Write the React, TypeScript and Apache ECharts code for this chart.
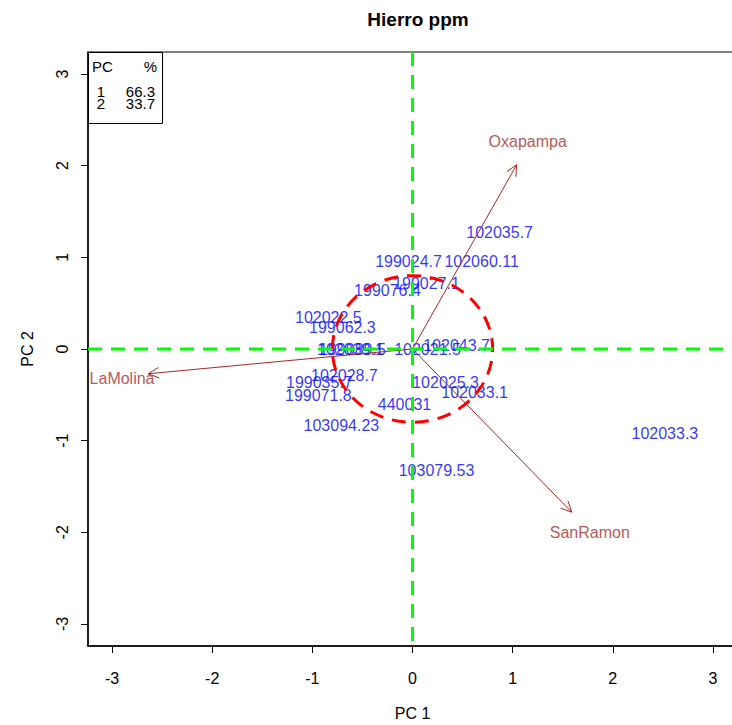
import React, { useEffect, useRef } from "react";
import * as echarts from "echarts";

// ---- data ----
const pointNames = [
  "102035.7", "199024.7", "102060.11", "199027.1", "199076.4", "102022.5",
  "199062.3", "102039.1", "199089.5", "102021.5", "102043.7", "102028.7",
  "199035.7", "199071.8", "102025.3", "102033.1", "440031", "103094.23",
  "103079.53", "102033.3",
];
const pc1 = [
  0.87, -0.04, 0.69, 0.14, -0.25, -0.84,
  -0.70, -0.62, -0.60, 0.15, 0.44, -0.68,
  -0.93, -0.94, 0.33, 0.62, -0.08, -0.71,
  0.24, 2.52,
];
const pc2 = [
  1.27, 0.95, 0.95, 0.71, 0.64, 0.34,
  0.23, 0.0, -0.01, 0.0, 0.04, -0.29,
  -0.36, -0.51, -0.36, -0.47, -0.61, -0.83,
  -1.32, -0.92,
];
const varNames = ["Oxapampa", "SanRamon", "LaMolina"];
const varPC1 = [1.04, 1.59, -2.64];
const varPC2 = [2.01, -1.78, -0.27];
const varLabelPC1 = [1.15, 1.77, -2.90];
const varLabelPC2 = [2.26, -2.0, -0.32];
const circleRadius = [0.8];
const tickValues = [-3, -2, -1, 0, 1, 2, 3];
const axisMin = -3.24;
const axisMax = 3.24;
const legendRows = [
  ["1", "66.3"],
  ["2", "33.7"],
];

const FONT = "'Liberation Sans', Arial, Helvetica, sans-serif";
const BROWN = "#A52A2A";

export default function App() {
  const ref = useRef<HTMLDivElement>(null);

  useEffect(() => {
    if (!ref.current) return;
    const chart = echarts.init(ref.current, undefined, { renderer: "svg" });

    const pointData = pointNames.map((n, i) => ({ name: n, value: [pc1[i], pc2[i]] }));
    const varLabelData = varNames.map((n, i) => ({ name: n, value: [varLabelPC1[i], varLabelPC2[i]] }));
    const arrowData = varNames.map((n, i) => ({ name: n, value: [varPC1[i], varPC2[i]] }));

    const legendGraphics: any[] = [
      {
        type: "rect",
        left: 88,
        top: 52,
        shape: { width: 74, height: 71 },
        style: { fill: "#fff", stroke: "#000", lineWidth: 1 },
        z: 100,
      },
      {
        type: "text",
        x: 92,
        y: 66,
        style: { text: "PC", font: `15px ${FONT}`, fill: "#000", textVerticalAlign: "middle" },
        z: 101,
      },
      {
        type: "text",
        x: 157,
        y: 66,
        style: { text: "%", font: `15px ${FONT}`, fill: "#000", textAlign: "right", textVerticalAlign: "middle" },
        z: 101,
      },
    ];
    legendRows.forEach((r, i) => {
      const y = 91 + i * 12;
      legendGraphics.push({
        type: "text",
        x: 101,
        y,
        style: { text: r[0], font: `15px ${FONT}`, fill: "#000", textAlign: "center", textVerticalAlign: "middle" },
        z: 101,
      });
      legendGraphics.push({
        type: "text",
        x: 155,
        y,
        style: { text: r[1], font: `15px ${FONT}`, fill: "#000", textAlign: "right", textVerticalAlign: "middle" },
        z: 101,
      });
    });

    chart.setOption({
      animation: false,
      backgroundColor: "#fff",
      title: {
        text: "Hierro ppm",
        left: 413,
        top: 5,
        textAlign: "center",
        textStyle: { fontFamily: FONT, fontSize: 19, fontWeight: "bold", color: "#000" },
      },
      grid: {
        left: 88,
        top: 52,
        width: 649,
        height: 594,
        show: true,
        borderColor: "#000",
        borderWidth: 1,
        containLabel: false,
        outerBoundsMode: "none",
      },
      xAxis: {
        type: "value",
        min: axisMin,
        max: axisMax,
        name: "PC 1",
        nameLocation: "middle",
        nameGap: 59,
        nameTextStyle: { fontFamily: FONT, fontSize: 16, color: "#000", verticalAlign: "top" },
        axisLine: { show: true, onZero: false, lineStyle: { color: "#000", width: 1.5 } },
        axisTick: { show: true, inside: false, length: 7, lineStyle: { color: "#000" }, customValues: tickValues },
        axisLabel: {
          show: true,
          margin: 24,
          fontFamily: FONT,
          fontSize: 16,
          color: "#000",
          customValues: tickValues,
          formatter: (v: number) => String(v),
        },
        splitLine: { show: false },
      },
      yAxis: {
        type: "value",
        min: axisMin,
        max: axisMax,
        name: "PC 2",
        nameLocation: "middle",
        nameGap: 53,
        nameRotate: 90,
        nameTextStyle: { fontFamily: FONT, fontSize: 16, color: "#000" },
        axisLine: { show: true, onZero: false, lineStyle: { color: "#000", width: 1.5 } },
        axisTick: { show: true, inside: false, length: 7, lineStyle: { color: "#000" }, customValues: tickValues },
        axisLabel: {
          show: true,
          margin: 18,
          rotate: 90,
          fontFamily: FONT,
          fontSize: 16,
          color: "#000",
          customValues: tickValues,
          formatter: (v: number) => String(v),
        },
        splitLine: { show: false },
      },
      graphic: legendGraphics,
      series: [
        {
          type: "scatter",
          name: "obs",
          data: pointData,
          symbolSize: 0,
          z: 3,
          label: {
            show: true,
            position: "inside",
            formatter: "{b}",
            color: "#0000FF",
            fontFamily: FONT,
            fontSize: 16,
          },
        },
        {
          type: "custom",
          name: "arrows",
          data: arrowData,
          z: 4,
          renderItem: (params: any, api: any) => {
            const o = api.coord([0, 0]);
            const t = api.coord([api.value(0), api.value(1)]);
            const ang = Math.atan2(t[1] - o[1], t[0] - o[0]);
            const len = 12;
            const spread = 0.45;
            const p1 = [t[0] - len * Math.cos(ang - spread), t[1] - len * Math.sin(ang - spread)];
            const p2 = [t[0] - len * Math.cos(ang + spread), t[1] - len * Math.sin(ang + spread)];
            return {
              type: "group",
              children: [
                {
                  type: "line",
                  shape: { x1: o[0], y1: o[1], x2: t[0], y2: t[1] },
                  style: { stroke: BROWN, lineWidth: 1 },
                },
                {
                  type: "polyline",
                  shape: { points: [p1, t, p2] },
                  style: { stroke: BROWN, lineWidth: 1, fill: "none" },
                },
              ],
            };
          },
        },
        {
          type: "scatter",
          name: "vars",
          data: varLabelData,
          symbolSize: 0,
          z: 5,
          label: {
            show: true,
            position: "inside",
            formatter: "{b}",
            color: BROWN,
            fontFamily: FONT,
            fontSize: 16,
          },
        },
        {
          type: "custom",
          name: "circle",
          data: circleRadius.map((r) => [0, 0, r]),
          z: 6,
          renderItem: (params: any, api: any) => {
            const c = api.coord([api.value(0), api.value(1)]);
            const s = api.size([api.value(2), api.value(2)]);
            return {
              type: "ellipse",
              shape: { cx: c[0], cy: c[1], rx: s[0], ry: s[1] },
              style: { stroke: "#FF0000", lineWidth: 3, lineDash: [14, 9], fill: "none" },
            };
          },
        },
        {
          type: "custom",
          name: "zero",
          data: [[0, 0]],
          z: 7,
          renderItem: (params: any, api: any) => {
            const cs = params.coordSys;
            const c = api.coord([api.value(0), api.value(1)]);
            const style = { stroke: "#00FF00", lineWidth: 3, lineDash: [14, 9], fill: "none" };
            return {
              type: "group",
              children: [
                { type: "line", shape: { x1: cs.x, y1: c[1], x2: cs.x + cs.width, y2: c[1] }, style },
                { type: "line", shape: { x1: c[0], y1: cs.y, x2: c[0], y2: cs.y + cs.height }, style },
              ],
            };
          },
        },
      ],
    });

    return () => chart.dispose();
  }, []);

  return (
    <div
      ref={ref}
      style={{ position: "fixed", left: 0, top: 0, width: 732, height: 725, background: "#fff" }}
    />
  );
}
